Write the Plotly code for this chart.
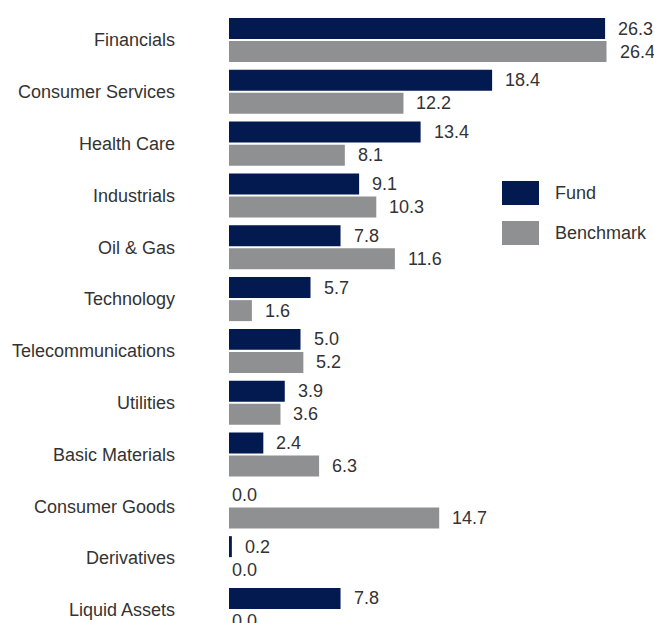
import plotly.graph_objects as go

categories = ["Financials", "Consumer Services", "Health Care", "Industrials", "Oil & Gas",
              "Technology", "Telecommunications", "Utilities", "Basic Materials",
              "Consumer Goods", "Derivatives", "Liquid Assets"]
fund = [26.3, 18.4, 13.4, 9.1, 7.8, 5.7, 5.0, 3.9, 2.4, 0.0, 0.2, 7.8]
benchmark = [26.4, 12.2, 8.1, 10.3, 11.6, 1.6, 5.2, 3.6, 6.3, 14.7, 0.0, 0.0]
series_names = ["Fund", "Benchmark"]

NAVY = "#021a50"
GRAY = "#8f9092"
TXT = "#333333"
FONT = "Liberation Sans, Arial, sans-serif"
FS = 18

fig = go.Figure()
fig.add_trace(go.Bar(y=categories, x=fund, name=series_names[0], orientation="h",
                     marker=dict(color=NAVY, line=dict(width=0)), showlegend=False))
fig.add_trace(go.Bar(y=categories, x=benchmark, name=series_names[1], orientation="h",
                     marker=dict(color=GRAY, line=dict(width=0)), showlegend=False))

annotations = []
for vals, ys in ((fund, 11.5), (benchmark, -11.5)):
    for c, v in zip(categories, vals):
        annotations.append(dict(x=v, y=c, xref="x", yref="y", text=f"{v:.1f}",
                                showarrow=False, xanchor="left", yanchor="middle",
                                xshift=11 if v > 0 else 1, yshift=ys,
                                font=dict(size=FS, color=TXT, family=FONT)))

# legend drawn in paper coordinates
W, H, L = 654, 623, 229
def px(x):
    return (x - L) / (W - L)
def py(y):
    return 1 - y / H

for i, (name, col) in enumerate(zip(series_names, [NAVY, GRAY])):
    top = 181 + i * 40
    fig.add_shape(type="rect", xref="paper", yref="paper",
                  x0=px(502), x1=px(539), y0=py(top + 24), y1=py(top),
                  fillcolor=col, line=dict(width=0))
    annotations.append(dict(x=px(553), y=py(top + 12), xref="paper", yref="paper",
                            text=name, showarrow=False, xanchor="left", yanchor="middle",
                            font=dict(size=FS, color=TXT, family=FONT)))

fig.update_layout(
    width=W, height=H,
    margin=dict(l=L, r=0, t=0, b=0),
    barmode="group", bargap=0.11, bargroupgap=0.09,
    plot_bgcolor="white", paper_bgcolor="white",
    annotations=annotations,
    font=dict(family=FONT, color=TXT, size=FS),
    xaxis=dict(range=[0, 29.72], visible=False, showgrid=False, zeroline=False),
    yaxis=dict(range=[11.251, -0.772], showgrid=False, zeroline=False, showline=False,
               ticks="", ticklabelstandoff=53,
               tickfont=dict(size=FS, color=TXT, family=FONT)),
)

fig.write_html("out.html")
